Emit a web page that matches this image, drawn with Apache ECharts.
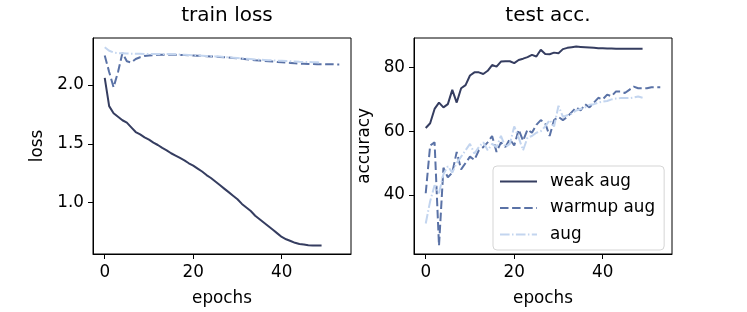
<!DOCTYPE html>
<html>
<head>
<meta charset="utf-8">
<script src="https://cdn.jsdelivr.net/npm/echarts@6/dist/echarts.min.js"></script>
<style>html,body{margin:0;padding:0;background:#fff}#c{width:747px;height:312px}</style>
</head>
<body>
<div id="c"></div>
<script>
const seriesNames = ['weak aug', 'warmup aug', 'aug'];
const panelTitles = ['train loss', 'test acc.'];
const xTicks = [0, 20, 40];
const lossTicks = [1.0, 1.5, 2.0];
const accTicks = [40, 60, 80];

const lossWeak = [2.06,1.82,1.76,1.73,1.70,1.68,1.64,1.60,1.58,1.555,1.535,1.51,1.49,1.465,1.445,1.42,1.40,1.38,1.36,1.335,1.315,1.29,1.265,1.235,1.21,1.18,1.15,1.12,1.09,1.06,1.03,0.99,0.96,0.93,0.89,0.86,0.83,0.80,0.77,0.74,0.71,0.69,0.675,0.66,0.65,0.645,0.64,0.638,0.638,0.638];
const lossWarmup = [2.25,2.11,1.98,2.11,2.27,2.20,2.19,2.22,2.235,2.245,2.25,2.252,2.255,2.256,2.256,2.255,2.255,2.254,2.253,2.252,2.25,2.248,2.246,2.244,2.242,2.24,2.237,2.235,2.232,2.229,2.226,2.222,2.218,2.214,2.21,2.207,2.204,2.201,2.198,2.195,2.192,2.189,2.186,2.183,2.18,2.179,2.178,2.177,2.176,2.176,2.175,2.175,2.174,2.174];
const lossAug = [2.32,2.29,2.275,2.27,2.268,2.266,2.265,2.264,2.264,2.263,2.263,2.262,2.262,2.262,2.262,2.261,2.26,2.258,2.256,2.254,2.252,2.25,2.248,2.246,2.244,2.242,2.24,2.237,2.234,2.231,2.228,2.225,2.222,2.219,2.216,2.214,2.212,2.21,2.208,2.206,2.204,2.202,2.2,2.198,2.196,2.195,2.194,2.193,2.192,2.19];

const accWeak = [61,62.5,67,69,67.5,68.5,73,69,73.5,74.5,77.5,78.5,78.5,78,79,80.8,80.3,81.9,82,82,81.4,82.4,82.8,83.3,84,83.5,85.6,84.3,84.2,84.7,84.5,85.8,86.2,86.4,86.6,86.5,86.4,86.3,86.2,86.1,86.1,86,86,85.9,85.9,85.9,85.9,85.9,85.9,85.9];
const accWarmup = [40.5,55.5,56.5,24,48.5,45.5,47,53.5,48,50,52,51,54,55,56.5,58.5,53.5,56.5,55,57.5,55.5,60.5,57,60.5,59.5,62,63.5,62.5,58.5,63.5,64.5,63.5,64.5,66,67.5,66.5,68.5,67.5,69,70.5,70,71.5,71,72.5,72.5,72,73,74,73.5,73.5,73.5,73.8,73.8,73.8];
const accAug = [31,38,43,40.5,46.5,49,47,50,52,54,56,53,55,56.5,54,56,55,58.5,55,56,61.5,58,54,58,58.5,59.5,60,61.5,63.5,61.5,68,64.5,65,65.5,66.5,67,67.5,68.3,68.5,69,69.3,69.5,70,70.3,70.4,70.4,70.4,70.6,70.9,70.5];

const colors = ['#353d60', '#5a72a6', '#c3d5ef'];
const dashes = ['solid', [8.5, 3.6], [9.6, 2.4, 1.5, 2.4]];
const FONT = 'DejaVu Sans';

function pts(arr) { return arr.map((v, i) => [i, v]); }

const chart = echarts.init(document.getElementById('c'), null, {renderer: 'canvas'});

function xAxis(gi) {
  return {
    type: 'value', gridIndex: gi, min: -2.65, max: 55.65,
    name: 'epochs', nameLocation: 'middle', nameGap: 36,
    nameTextStyle: {fontFamily: FONT, fontSize: 16.8, color: '#000'},
    splitLine: {show: false},
    axisLine: {show: true, onZero: false, lineStyle: {color: '#000', width: 1}},
    axisTick: {show: true, length: 5, customValues: xTicks, lineStyle: {color: '#000'}},
    axisLabel: {customValues: xTicks, margin: 10, fontFamily: FONT, fontSize: 16.8, color: '#000'}
  };
}
function yAxis(gi, name, min, max, ticks, gap, fmt) {
  return {
    type: 'value', gridIndex: gi, min: min, max: max,
    name: name, nameLocation: 'middle', nameGap: gap, nameRotate: 90,
    nameTextStyle: {fontFamily: FONT, fontSize: 16.8, color: '#000'},
    splitLine: {show: false},
    axisLine: {show: true, onZero: false, lineStyle: {color: '#000', width: 1}},
    axisTick: {show: true, length: 5, customValues: ticks, lineStyle: {color: '#000'}},
    axisLabel: {customValues: ticks, margin: 9, fontFamily: FONT, fontSize: 16.8, color: '#000', formatter: fmt}
  };
}
function line(name, idx, gi, arr) {
  return {
    type: 'line', name: name, xAxisIndex: gi, yAxisIndex: gi,
    data: pts(arr), symbol: 'none', smooth: false, animation: false,
    lineStyle: {color: colors[idx], width: 2, type: dashes[idx]},
    itemStyle: {color: colors[idx]}
  };
}

chart.setOption({
  animation: false,
  textStyle: {fontFamily: FONT},
  title: [
    {text: panelTitles[0], left: 222, top: 1, textAlign: 'center', textStyle: {fontFamily: FONT, fontSize: 20, fontWeight: 'normal', color: '#000'}},
    {text: panelTitles[1], left: 543, top: 1, textAlign: 'center', textStyle: {fontFamily: FONT, fontSize: 20, fontWeight: 'normal', color: '#000'}}
  ],
  grid: [
    {left: 93, top: 38, width: 258, height: 216, show: true, borderColor: '#000', borderWidth: 1, backgroundColor: 'transparent'},
    {left: 414, top: 38, width: 258, height: 216, show: true, borderColor: '#000', borderWidth: 1, backgroundColor: 'transparent'}
  ],
  xAxis: [xAxis(0), xAxis(1)],
  yAxis: [
    yAxis(0, 'loss', 0.565, 2.398, lossTicks, 47, v => v.toFixed(1)),
    yAxis(1, 'accuracy', 21.4, 89.3, accTicks, 41, v => String(v))
  ],
  legend: {
    data: seriesNames, orient: 'vertical', left: 493, top: 166,
    itemWidth: 37, itemHeight: 14, itemGap: 9.5,
    padding: [7, 9, 7, 6],
    itemStyle: {opacity: 0},
    backgroundColor: 'rgba(255,255,255,0.8)', borderColor: '#d5d5d5', borderWidth: 1, borderRadius: 4,
    textStyle: {fontFamily: FONT, fontSize: 16.8, color: '#000', padding: [0, 0, 0, 8]}
  },
  series: [
    line(seriesNames[0], 0, 0, lossWeak),
    line(seriesNames[1], 1, 0, lossWarmup),
    line(seriesNames[2], 2, 0, lossAug),
    line(seriesNames[0], 0, 1, accWeak),
    line(seriesNames[1], 1, 1, accWarmup),
    line(seriesNames[2], 2, 1, accAug)
  ]
});
</script>
</body>
</html>
